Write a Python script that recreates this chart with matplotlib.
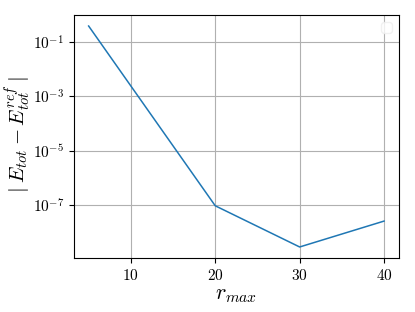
import matplotlib
matplotlib.use("Agg")
import matplotlib.pyplot as plt
from matplotlib.ticker import NullLocator

plt.rcParams['font.family'] = 'serif'
plt.rcParams['font.serif'] = ['cmr10']
plt.rcParams['mathtext.fontset'] = 'cm'
plt.rcParams['axes.formatter.use_mathtext'] = True

r_max = [5, 20, 30, 40]
err = [3.9e-1, 9.5e-8, 2.9e-9, 2.6e-8]
yticks = [1e-1, 1e-3, 1e-5, 1e-7]

fig = plt.figure(figsize=[4.15, 3.12], dpi=100)
ax = fig.add_subplot(1, 1, 1)
fig.subplots_adjust(left=0.178, right=0.961, bottom=0.173, top=0.952)
ax.plot(r_max, err, color='#1f77b4', linewidth=1.1)
ax.set_yscale('log')
ax.set_yticks(yticks)
ax.yaxis.set_minor_locator(NullLocator())
ax.set_xticks([10, 20, 30, 40])
ax.tick_params(labelsize=11)
ax.grid(True)
ax.set_xlabel(r'$r_{max}$', fontsize=16, labelpad=2)
ax.set_ylabel(r'$\mid E_{tot} - E_{tot}^{ref} \mid$', fontsize=15)
ax.yaxis.set_label_coords(-0.127, 0.5)
ax.legend(handles=[], loc='upper right', edgecolor='#eeeeee')
fig.savefig('out.png', dpi=100)
